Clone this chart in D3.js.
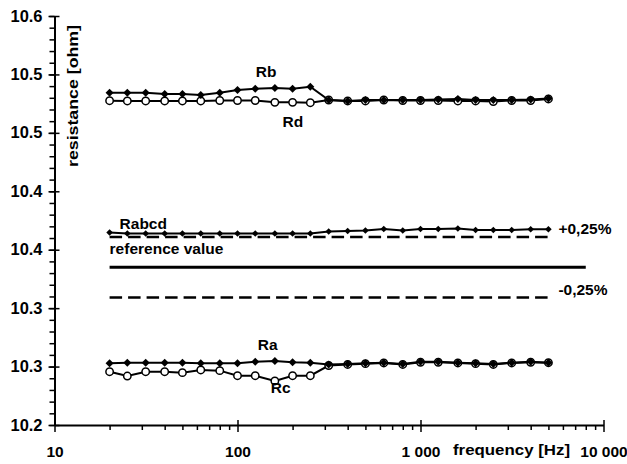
<!DOCTYPE html>
<html>
<head>
<meta charset="utf-8">
<script src="https://cdn.jsdelivr.net/npm/d3@7/dist/d3.min.js"></script>
<style>
  html, body { margin: 0; padding: 0; background: #fff; }
  svg { display: block; }
  text { font-family: "Liberation Sans", Arial, sans-serif; font-weight: bold; fill: #000; }
</style>
</head>
<body>
<svg id="chart" width="627" height="464"></svg>
<script>
// ---- data ----
const freqs = [20, 25, 31.5, 40, 50, 63, 80, 100, 125, 160, 200, 250, 315, 400, 500, 630, 800, 1000, 1250, 1600, 2000, 2500, 3150, 4000, 5000];
const Rb = [10.4844, 10.4844, 10.4844, 10.4832, 10.4832, 10.4824, 10.4844, 10.4867, 10.4878, 10.4884, 10.4878, 10.4895, 10.4781, 10.4772, 10.4781, 10.4781, 10.4781, 10.4781, 10.4785, 10.4790, 10.4781, 10.4781, 10.4781, 10.4785, 10.4794];
const Rd = [10.4775, 10.4773, 10.4773, 10.4773, 10.4773, 10.4773, 10.4777, 10.4777, 10.4777, 10.4761, 10.4761, 10.4758, 10.4781, 10.4773, 10.4773, 10.4781, 10.4777, 10.4777, 10.4777, 10.4773, 10.4773, 10.4768, 10.4777, 10.4777, 10.4790];
const Rabcd = [10.3647, 10.3639, 10.3639, 10.3639, 10.3639, 10.3639, 10.3639, 10.3639, 10.3639, 10.3639, 10.3639, 10.3639, 10.3656, 10.3660, 10.3664, 10.3677, 10.3664, 10.3677, 10.3677, 10.3682, 10.3669, 10.3669, 10.3669, 10.3675, 10.3675];
const Ra = [10.2528, 10.2533, 10.2533, 10.2533, 10.2533, 10.2528, 10.2528, 10.2528, 10.2542, 10.2548, 10.2537, 10.2533, 10.2518, 10.2522, 10.2528, 10.2533, 10.2522, 10.2542, 10.2542, 10.2533, 10.2528, 10.2522, 10.2533, 10.2542, 10.2533];
const Rc = [10.2456, 10.2419, 10.2456, 10.2456, 10.2448, 10.2471, 10.2465, 10.2422, 10.2422, 10.2377, 10.2422, 10.2422, 10.2509, 10.2518, 10.2525, 10.2531, 10.2518, 10.2537, 10.2537, 10.2531, 10.2525, 10.2518, 10.2531, 10.2537, 10.2533];
const refValue = 10.335;
const tolerance = 0.0025;
const refFreqRange = [20, 8000];
const tolFreqRange = [20, 5000];
const yTickValues = [10.2, 10.25, 10.3, 10.35, 10.4, 10.45, 10.5, 10.55];
const yTickLabels = ["10.2", "10.3", "10.3", "10.4", "10.4", "10.5", "10.5", "10.6"];
const xTickValues = [10, 100, 1000, 10000];
const xTickLabels = ["10", "100", "1 000", "10 000"];

// ---- layout ----
const svg = d3.select("#chart");
const x = d3.scaleLog().domain([10, 10000]).range([54.5, 603.5]);
const y = d3.scaleLinear().domain([10.2, 10.55]).range([425, 16]);

// y minor ticks
const yMinor = d3.range(0, 36).map(i => +(10.2 + i * 0.01).toFixed(2));
svg.append("g").attr("transform", "translate(54.5,0)")
  .call(d3.axisLeft(y).tickValues(yMinor).tickFormat("").tickSize(5).tickSizeOuter(0))
  .call(g => g.select(".domain").remove())
  .call(g => g.selectAll("line").attr("stroke", "#000").attr("stroke-width", 1.5));
// y major
const yAxis = svg.append("g").attr("transform", "translate(54.5,0)")
  .call(d3.axisLeft(y).tickValues(yTickValues).tickFormat((d, i) => yTickLabels[i]).tickSize(6).tickPadding(8).tickSizeOuter(0));
yAxis.select(".domain").attr("stroke", "#000").attr("stroke-width", 2);
yAxis.selectAll(".tick line").attr("x1", 5).attr("stroke", "#000").attr("stroke-width", 1.5);
yAxis.selectAll(".tick text").attr("font-size", 16).attr("font-family", "Liberation Sans, Arial, sans-serif").attr("font-weight", "bold").attr("x", -12)
  .attr("textLength", 32).attr("lengthAdjust", "spacingAndGlyphs");

// x minor ticks
const xMinor = [];
[10, 100, 1000].forEach(dec => { for (let k = 2; k <= 9; k++) xMinor.push(dec * k); });
svg.append("g").attr("transform", "translate(0,425)")
  .call(d3.axisBottom(x).tickValues(xMinor).tickFormat("").tickSize(5).tickSizeOuter(0))
  .call(g => g.select(".domain").remove())
  .call(g => g.selectAll("line").attr("stroke", "#000").attr("stroke-width", 1.5));
const xAxis = svg.append("g").attr("transform", "translate(0,425)")
  .call(d3.axisBottom(x).tickValues(xTickValues).tickFormat((d, i) => xTickLabels[i]).tickSize(7).tickPadding(20).tickSizeOuter(0));
xAxis.select(".domain").attr("stroke", "#000").attr("stroke-width", 2);
xAxis.selectAll(".tick line").attr("y1", -5).attr("stroke", "#000").attr("stroke-width", 1.5);
xAxis.selectAll(".tick text").attr("font-size", 15.5).attr("font-family", "Liberation Sans, Arial, sans-serif").attr("font-weight", "bold").attr("dy", null).attr("y", 32);

// axis titles
svg.append("text").attr("x", 453).attr("y", 455).attr("font-size", 15.5)
  .attr("textLength", 117).attr("lengthAdjust", "spacingAndGlyphs").text("frequency [Hz]");
svg.append("text").attr("transform", "translate(78,167) rotate(-90)").attr("font-size", 15.5)
  .attr("textLength", 142).attr("lengthAdjust", "spacingAndGlyphs").text("resistance [ohm]");

// reference and tolerance lines
const hline = (val, range) => d3.line()([[x(range[0]), y(val)], [x(range[1]), y(val)]]);
svg.append("path").attr("d", hline(refValue, refFreqRange)).attr("stroke", "#000").attr("stroke-width", 3).attr("fill", "none");
svg.append("path").attr("d", hline(refValue * (1 + tolerance), tolFreqRange)).attr("stroke", "#000").attr("stroke-width", 2.5).attr("stroke-dasharray", "12.5,6").attr("fill", "none");
svg.append("path").attr("d", hline(refValue * (1 - tolerance), tolFreqRange)).attr("stroke", "#000").attr("stroke-width", 2.5).attr("stroke-dasharray", "12.5,6").attr("fill", "none");

// series
const line = d3.line().x((d, i) => x(freqs[i])).y(d => y(d));
function drawSeries(vals, marker, size, lw) {
  const g = svg.append("g");
  g.append("path").attr("d", line(vals)).attr("stroke", "#000").attr("stroke-width", lw).attr("fill", "none");
  if (marker === "diamond") {
    g.selectAll("path.m").data(vals).join("path").attr("class", "m")
      .attr("d", (d, i) => {
        const cx = x(freqs[i]), cy = y(d);
        return d3.line()([[cx, cy - size], [cx + size, cy], [cx, cy + size], [cx - size, cy]]) + "Z";
      }).attr("fill", "#000");
  } else {
    g.selectAll("circle").data(vals).join("circle")
      .attr("cx", (d, i) => x(freqs[i])).attr("cy", d => y(d)).attr("r", size)
      .attr("fill", "#fff").attr("stroke", "#000").attr("stroke-width", 1.5);
  }
}
drawSeries(Rd, "circle", 3.7, 2);
drawSeries(Rb, "diamond", 4, 2);
drawSeries(Rc, "circle", 3.7, 2);
drawSeries(Ra, "diamond", 4, 2);
drawSeries(Rabcd, "diamond", 3.3, 2);

// annotations
const labels = [
  { t: "Rb", f: 160, v: Rb[9], dx: -19, dy: -11 },
  { t: "Rd", f: 200, v: Rd[10], dx: -10, dy: 25 },
  { t: "Rabcd", f: 20, v: Rabcd[0], dx: 10, dy: -4 },
  { t: "reference value", f: 20, v: refValue, dx: 0, dy: -13 },
  { t: "+0,25%", f: 5000, v: refValue * (1 + tolerance), dx: 10, dy: -3 },
  { t: "-0,25%", f: 5000, v: refValue * (1 - tolerance), dx: 10, dy: -2 },
  { t: "Ra", f: 160, v: Ra[9], dx: -17, dy: -11 },
  { t: "Rc", f: 160, v: Rc[9], dx: -4, dy: 12 }
];
svg.selectAll("text.lbl").data(labels).join("text").attr("class", "lbl")
  .attr("x", d => x(d.f) + d.dx).attr("y", d => y(d.v) + d.dy)
  .attr("font-size", 15.5).text(d => d.t);
</script>
</body>
</html>
